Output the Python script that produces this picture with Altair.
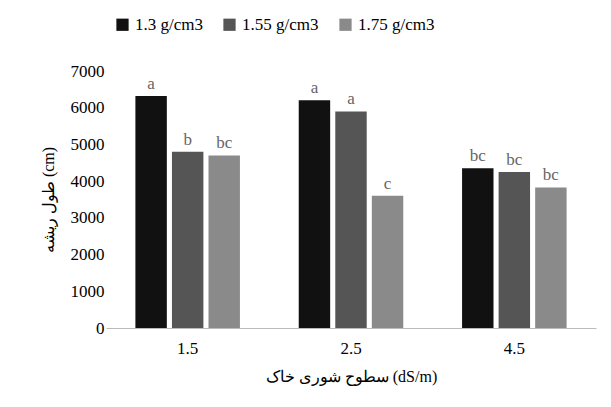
import altair as alt
import pandas as pd

cats = ["1.5", "2.5", "4.5"]
series = ["1.3 g/cm3", "1.55 g/cm3", "1.75 g/cm3"]
vals = [[6320, 4800, 4700], [6200, 5900, 3600], [4350, 4250, 3830]]
letters = [["a", "b", "bc"], ["a", "a", "c"], ["bc", "bc", "bc"]]

rows = []
for i, c in enumerate(cats):
    for j, s in enumerate(series):
        rows.append({"cat": c, "ser": s, "v": vals[i][j], "lab": letters[i][j]})
df = pd.DataFrame(rows)

F = "Liberation Serif"
x = alt.X("cat:N", title="سطوح شوری خاک (dS/m)", sort=cats,
          scale=alt.Scale(paddingInner=0.36, paddingOuter=0.18),
          axis=alt.Axis(labelAngle=0, ticks=False, domainColor="#bbb", labelFontSize=17,
                        titleFontSize=16, titleFontWeight="normal", titlePadding=12, labelPadding=12))
xo = alt.XOffset("ser:N", sort=series, scale=alt.Scale(paddingInner=0.14))
yax = alt.Axis(values=list(range(0, 7001, 1000)), format="d", labelOverlap=False,
               grid=False, domain=False, ticks=False,
               labelFontSize=17, titleFontSize=16, titleFontWeight="normal", titlePadding=14)
y = alt.Y("v:Q", title="طول ریشه (cm)", scale=alt.Scale(domain=[0, 7000]), axis=yax)
base = alt.Chart(df)
bars = base.mark_bar().encode(
    x=x, xOffset=xo, y=y,
    color=alt.Color("ser:N", sort=series,
                    scale=alt.Scale(domain=series, range=["#111111", "#555555", "#8a8a8a"]),
                    legend=alt.Legend(orient="none", legendX=8, legendY=-55, direction="horizontal",
                                      title=None, labelFontSize=17, symbolType="square",
                                      symbolSize=150, labelFont=F, columnPadding=18)),
)
text = base.mark_text(dy=-12, fontSize=17, font=F, color="#666").encode(
    x=x, xOffset=xo, y=y, text="lab:N")
chart = (bars + text).properties(width=490, height=257, padding={"left": 32, "top": 8, "right": 2, "bottom": 5}
    ).configure_view(stroke=None).configure_axis(
    labelFont=F, titleFont=F, labelColor="#000", titleColor="#000")
chart.save("out.html", embed_options={"renderer": "svg", "actions": False})
